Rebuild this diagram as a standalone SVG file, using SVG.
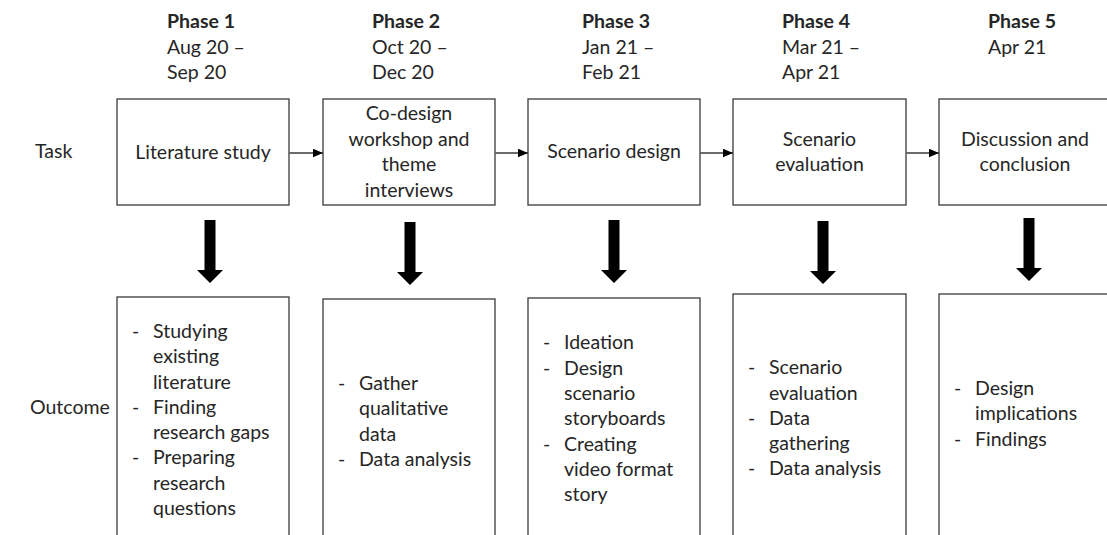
<svg xmlns="http://www.w3.org/2000/svg" width="1107" height="535" viewBox="0 0 1107 535">
<style>
  text { font-family: Lato, "Liberation Sans", sans-serif; font-size: 19.5px; fill: #262626; }
  .ph { font-weight: bold; }
  .c { text-anchor: middle; }
  .box { fill: #ffffff; stroke: #3a3a3a; stroke-width: 1.3; }
  .link { stroke: #3a3a3a; stroke-width: 1.3; fill: none; }
  .big { fill: #000000; }
</style>
<defs>
  <marker id="ah" markerWidth="11" markerHeight="9" refX="10.5" refY="4.5" orient="auto" markerUnits="userSpaceOnUse">
    <path d="M0,0 L10.5,4.5 L0,9 Z" fill="#000"/>
  </marker>
  <path id="down" d="M-5.5,0 L5.5,0 L5.5,50 L13,50 L0,63 L-13,50 L-5.5,50 Z"/>
</defs>
<rect width="1107" height="535" fill="#ffffff"/>

<g id="row-labels">
  <text x="35" y="158">Task</text>
  <text x="30" y="414">Outcome</text>
</g>

<g id="phase1">
  <text class="ph" x="167" y="28">Phase 1</text>
  <text x="167" y="53.5">Aug 20 –</text>
  <text x="167" y="79">Sep 20</text>
</g>
<g id="phase2">
  <text class="ph" x="372" y="28">Phase 2</text>
  <text x="372" y="53.5">Oct 20 –</text>
  <text x="372" y="79">Dec 20</text>
</g>
<g id="phase3">
  <text class="ph" x="582" y="28">Phase 3</text>
  <text x="582" y="53.5">Jan 21 –</text>
  <text x="582" y="79">Feb 21</text>
</g>
<g id="phase4">
  <text class="ph" x="782" y="28">Phase 4</text>
  <text x="782" y="53.5">Mar 21 –</text>
  <text x="782" y="79">Apr 21</text>
</g>
<g id="phase5">
  <text class="ph" x="988" y="28">Phase 5</text>
  <text x="988" y="53.5">Apr 21</text>
</g>

<g id="task1">
  <rect class="box" x="117" y="99" width="172" height="106"/>
  <text class="c" x="203" y="159">Literature study</text>
</g>
<g id="task2">
  <rect class="box" x="323" y="99" width="172" height="106"/>
  <text class="c" x="409" y="120">Co-design</text>
  <text class="c" x="409" y="145.5">workshop and</text>
  <text class="c" x="409" y="171">theme</text>
  <text class="c" x="409" y="196.5">interviews</text>
</g>
<g id="task3">
  <rect class="box" x="528" y="99" width="172" height="106"/>
  <text class="c" x="614" y="158">Scenario design</text>
</g>
<g id="task4">
  <rect class="box" x="733" y="99" width="173" height="106"/>
  <text class="c" x="819.5" y="146">Scenario</text>
  <text class="c" x="819.5" y="171">evaluation</text>
</g>
<g id="task5">
  <rect class="box" x="939" y="99" width="172" height="106"/>
  <text class="c" x="1025" y="146">Discussion and</text>
  <text class="c" x="1025" y="171">conclusion</text>
</g>

<g id="outcome1">
  <rect class="box" x="117" y="297" width="172" height="250"/>
  <text x="132" y="338">-</text><text x="153" y="338">Studying</text>
  <text x="153" y="363">existing</text>
  <text x="153" y="388.5">literature</text>
  <text x="132" y="413.5">-</text><text x="153" y="413.5">Finding</text>
  <text x="153" y="439">research gaps</text>
  <text x="132" y="464">-</text><text x="153" y="464">Preparing</text>
  <text x="153" y="489.5">research</text>
  <text x="153" y="514.5">questions</text>
</g>
<g id="outcome2">
  <rect class="box" x="323" y="299" width="172" height="250"/>
  <text x="338" y="390">-</text><text x="359" y="390">Gather</text>
  <text x="359" y="415">qualitative</text>
  <text x="359" y="440.5">data</text>
  <text x="338" y="465.5">-</text><text x="359" y="465.5">Data analysis</text>
</g>
<g id="outcome3">
  <rect class="box" x="528" y="298" width="172" height="250"/>
  <text x="543" y="349">-</text><text x="564" y="349">Ideation</text>
  <text x="543" y="374.5">-</text><text x="564" y="374.5">Design</text>
  <text x="564" y="400">scenario</text>
  <text x="564" y="425">storyboards</text>
  <text x="543" y="450.5">-</text><text x="564" y="450.5">Creating</text>
  <text x="564" y="476">video format</text>
  <text x="564" y="501">story</text>
</g>
<g id="outcome4">
  <rect class="box" x="733" y="294" width="173" height="250"/>
  <text x="748" y="374">-</text><text x="769" y="374">Scenario</text>
  <text x="769" y="399.5">evaluation</text>
  <text x="748" y="424.5">-</text><text x="769" y="424.5">Data</text>
  <text x="769" y="450">gathering</text>
  <text x="748" y="475">-</text><text x="769" y="475">Data analysis</text>
</g>
<g id="outcome5">
  <rect class="box" x="939" y="294" width="172" height="250"/>
  <text x="954" y="395">-</text><text x="975" y="395">Design</text>
  <text x="975" y="420">implications</text>
  <text x="954" y="445.5">-</text><text x="975" y="445.5">Findings</text>
</g>

<g id="connectors">
  <line class="link" x1="289.5" y1="153" x2="323" y2="153" marker-end="url(#ah)"/>
  <line class="link" x1="495.5" y1="153" x2="528" y2="153" marker-end="url(#ah)"/>
  <line class="link" x1="700.5" y1="153" x2="733" y2="153" marker-end="url(#ah)"/>
  <line class="link" x1="906.5" y1="153" x2="939" y2="153" marker-end="url(#ah)"/>
  <use class="big" href="#down" x="210" y="220"/>
  <use class="big" href="#down" x="410" y="222"/>
  <use class="big" href="#down" x="614" y="220"/>
  <use class="big" href="#down" x="823" y="221"/>
  <use class="big" href="#down" x="1029" y="218"/>
</g>
</svg>
